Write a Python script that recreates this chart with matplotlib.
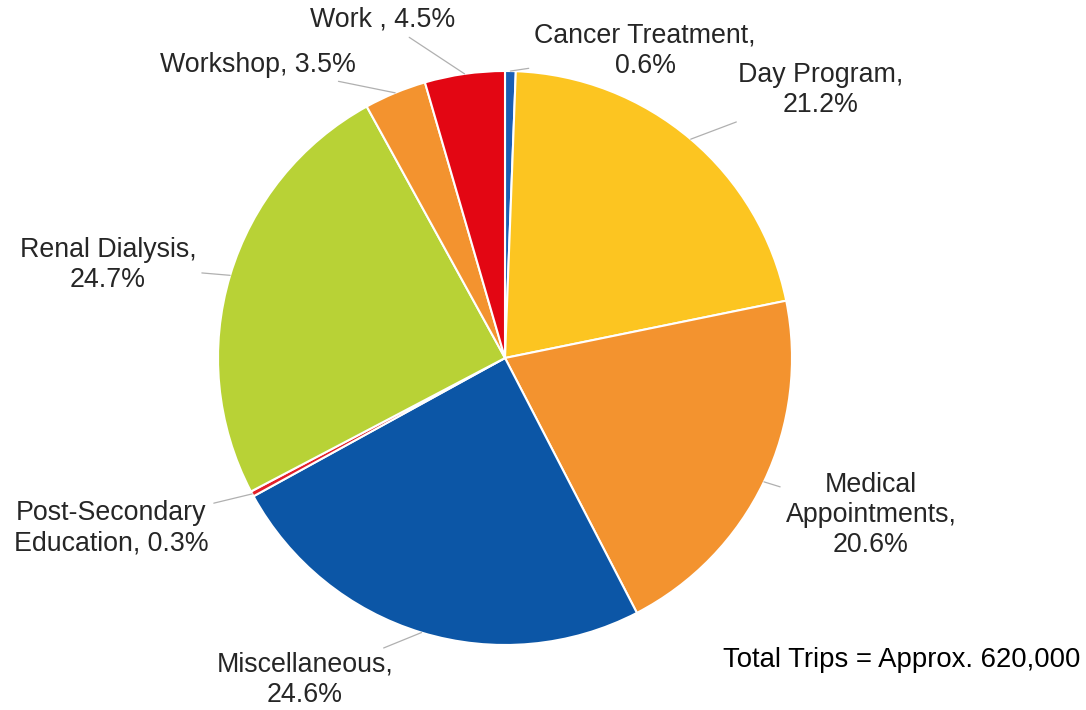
import numpy as np
import matplotlib.pyplot as plt

plt.rcParams['font.family'] = ['Liberation Sans', 'DejaVu Sans']

# Trip purposes, clockwise from 12 o'clock
purposes = ['Cancer Treatment', 'Day Program', 'Medical Appointments', 'Miscellaneous',
            'Post-Secondary Education', 'Renal Dialysis', 'Workshop', 'Work ']
shares = [0.6, 21.2, 20.6, 24.6, 0.3, 24.7, 3.5, 4.5]
colors = ['#1a5fb4', '#fcc521', '#f3932f', '#0c56a6', '#e3202a', '#b8d236', '#f3932f', '#e30613']
label_text = ['Cancer Treatment,\n0.6%', 'Day Program,\n21.2%', 'Medical\nAppointments,\n20.6%',
              'Miscellaneous,\n24.6%', 'Post-Secondary\nEducation, 0.3%', 'Renal Dialysis,\n24.7%',
              'Workshop, 3.5%', 'Work , 4.5%']
total_note = 'Total Trips = Approx. 620,000'

# label placement in pixel space (x right, y down from top)
label_pos = [(645, 51), (821, 90), (871, 515), (305, 680), (111, 528), (108, 265), (258, 65), (383, 20)]

W, H = 1086, 710
cx, cy, r = 505, H - 358, 287

fig = plt.figure(figsize=(W / 100, H / 100), dpi=100)
ax = fig.add_axes([0, 0, 1, 1])
wedges, _ = ax.pie(shares, colors=colors, startangle=90, counterclock=False,
                   center=(cx, cy), radius=r,
                   wedgeprops=dict(edgecolor='white', linewidth=1.5))
ax.set_xlim(0, W)
ax.set_ylim(0, H)
ax.set_aspect('equal')
ax.axis('off')

for w, txt, (lx, ly) in zip(wedges, label_text, label_pos):
    ang = np.deg2rad((w.theta1 + w.theta2) / 2)
    px, py = cx + r * np.cos(ang), cy + r * np.sin(ang)
    ax.annotate(txt, xy=(px, py), xytext=(lx, H - ly), ha='center', va='center',
                fontsize=19.3, color='#262626', linespacing=1.22,
                arrowprops=dict(arrowstyle='-', color='#b0b0b0', lw=0.9,
                                shrinkA=2, shrinkB=0))

ax.text(1080, H - 660, total_note, ha='right', va='center', fontsize=19.8, color='black')

fig.savefig('out.png', dpi=100)
